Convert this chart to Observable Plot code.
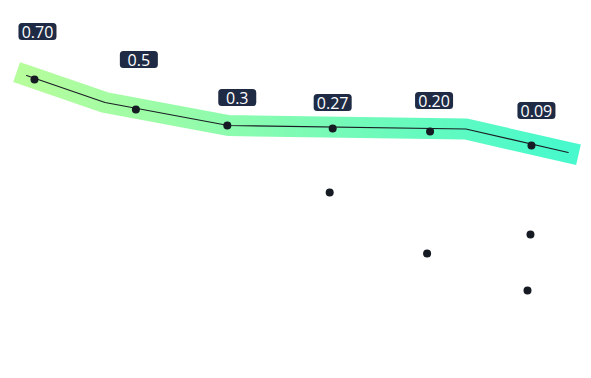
<!DOCTYPE html>
<html>
<head>
<meta charset="utf-8">
<script src="https://cdn.jsdelivr.net/npm/d3@7"></script>
<script src="https://cdn.jsdelivr.net/npm/@observablehq/plot@0.6"></script>
<style>
  html, body { margin: 0; padding: 0; background: #ffffff; }
  svg { display: block; }
</style>
</head>
<body>
<script>
// Main series (step index, score)
const steps = [0, 1.02, 1.94, 3.0, 3.98, 5.0];
const scores = [29.9, 26.9, 25.3, 25.0, 24.7, 23.3];

// Path of the highlighted band/line
const pathSteps = [-0.08, 0.71, 1.95, 4.34, 5.37];
const pathScores = [30.3, 27.6, 25.3, 24.95, 22.6];

// Labels
const labelTexts = ["0.70", "0.5", "0.3", "0.27", "0.20", "0.09"];
const labelSteps = [0.03, 1.05, 2.04, 3.0, 4.02, 5.05];
const labelScores = [34.6, 31.8, 28.0, 27.5, 27.7, 26.7];

// Extra points
const extraSteps = [2.97, 3.95, 4.99, 4.96];
const extraScores = [18.6, 12.5, 14.4, 8.8];

const mainData = steps.map((s, i) => ({x: s, y: scores[i]}));
const pathData = pathSteps.map((s, i) => ({x: s, y: pathScores[i]}));
const labelData = labelTexts.map((t, i) => ({x: labelSteps[i], y: labelScores[i], t}));
const extraData = extraSteps.map((s, i) => ({x: s, y: extraScores[i]}));

const defs = () => {
  const d = d3.create("svg:defs");
  const g = d.append("linearGradient").attr("id", "band-grad")
    .attr("x1", "0").attr("x2", "1").attr("y1", "0").attr("y2", "0");
  g.append("stop").attr("offset", "0%").attr("stop-color", "#b6fd9c");
  g.append("stop").attr("offset", "100%").attr("stop-color", "#47f9cc");
  return d.node();
};

const chart = Plot.plot({
  width: 591,
  height: 378,
  margin: 0,
  x: {domain: [-0.342, 5.604], axis: null},
  y: {domain: [0, 37.8], axis: null},
  marks: [
    defs,
    Plot.line(pathData, {x: "x", y: "y", stroke: "url(#band-grad)", strokeWidth: 21,
      strokeLinecap: "square", strokeLinejoin: "miter", curve: "linear"}),
    Plot.line(pathData, {x: "x", y: "y", stroke: "#1a1d24", strokeWidth: 1.1, curve: "linear"}),
    Plot.dot(mainData, {x: "x", y: "y", r: 4, fill: "#161a22", stroke: "none"}),
    Plot.dot(extraData, {x: "x", y: "y", r: 4, fill: "#161a22", stroke: "none"}),
    Plot.text(labelData, {x: "x", y: "y", text: "t", fill: "#ffffff", fontSize: 16,
      fontWeight: 400,
      fontFamily: "'Open Sans', 'Noto Sans', sans-serif", textAnchor: "middle", lineAnchor: "middle",
      className: "lbl"})
  ]
});
document.body.appendChild(chart);

// Rounded background boxes behind the labels
d3.select(chart).selectAll("g.lbl text").each(function() {
  const bb = this.getBBox();
  const w = 38, h = 17;
  const r = document.createElementNS("http://www.w3.org/2000/svg", "rect");
  r.setAttribute("x", bb.x + bb.width / 2 - w / 2);
  r.setAttribute("y", bb.y + bb.height / 2 - h / 2);
  r.setAttribute("width", w);
  r.setAttribute("height", h);
  r.setAttribute("rx", 3.5);
  r.setAttribute("fill", "#1f2b45");
  const tr = this.getAttribute("transform");
  if (tr) r.setAttribute("transform", tr);
  this.parentNode.insertBefore(r, this);
});
</script>
</body>
</html>
